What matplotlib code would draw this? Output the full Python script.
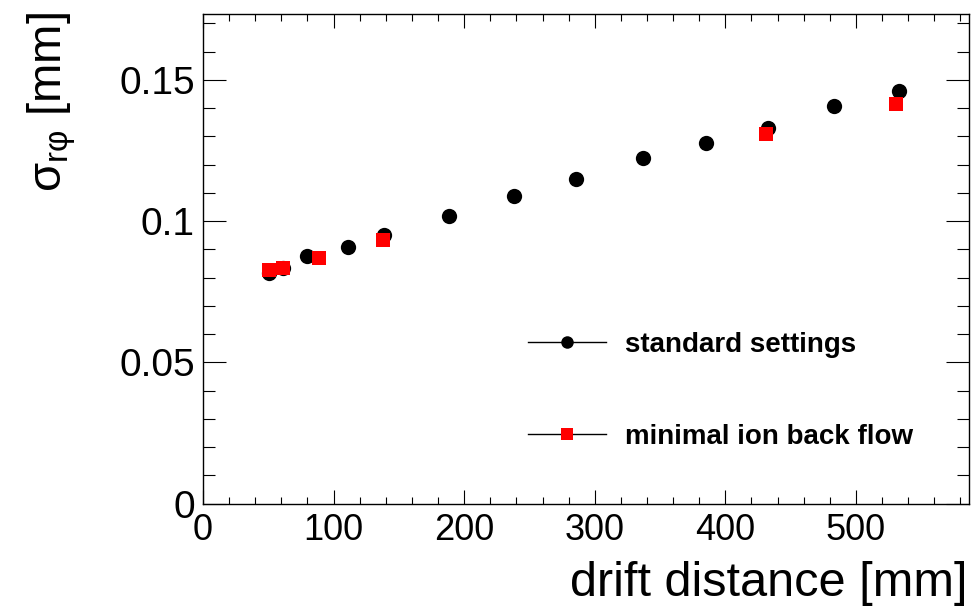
import matplotlib
matplotlib.use("Agg")
import matplotlib.pyplot as plt
from matplotlib.lines import Line2D
from matplotlib.ticker import MultipleLocator, FuncFormatter

# ---- data ----
std_x = [50.8, 61.0, 79.4, 110.8, 138.9, 188.7, 238.2, 286.0, 336.8, 385.2, 433.0, 483.6, 533.2]
std_y = [0.0816, 0.0834, 0.0878, 0.0907, 0.0951, 0.1017, 0.1087, 0.1148, 0.1222, 0.1275, 0.1331, 0.1406, 0.1459]
ibf_x = [50.6, 61.1, 88.9, 137.7, 431.3, 530.9]
ibf_y = [0.0825, 0.0834, 0.0869, 0.0934, 0.1308, 0.1414]
labels = ["standard settings", "minimal ion back flow"]
x_title = "drift distance [mm]"
y_title = r"$\mathrm{\sigma_{r\varphi}}$ [mm]"

plt.rcParams['font.family'] = ['Liberation Sans', 'DejaVu Sans']
plt.rcParams['mathtext.fontset'] = 'custom'
plt.rcParams['mathtext.rm'] = 'Liberation Sans'
plt.rcParams['mathtext.it'] = 'Liberation Sans'

W, H = 978, 609
fig = plt.figure(figsize=(W / 100, H / 100), dpi=100)
L, R, T, B = 203, 969.5, 14, 503.5
ax = fig.add_axes([L / W, 1 - B / H, (R - L) / W, (B - T) / H])

ax.plot(std_x, std_y, linestyle='none', marker='o', ms=11, mfc='black', mec='black', mew=0, zorder=3)
ax.plot(ibf_x, ibf_y, linestyle='none', marker='s', ms=9.6, mfc='#ff0000', mec='#ff0000', mew=0, zorder=4)

ax.set_xlim(0, 587)
ax.set_ylim(0, 0.1733)

ax.xaxis.set_major_locator(MultipleLocator(100))
ax.xaxis.set_minor_locator(MultipleLocator(20))
ax.yaxis.set_major_locator(MultipleLocator(0.05))
ax.yaxis.set_minor_locator(MultipleLocator(0.01))
ax.yaxis.set_major_formatter(FuncFormatter(lambda v, p: "%g" % round(v, 4)))
ax.xaxis.set_major_formatter(FuncFormatter(lambda v, p: "%g" % round(v, 4)))

for s in ax.spines.values():
    s.set_linewidth(1.0)

ax.tick_params(axis='both', which='both', direction='in', top=True, right=True, width=0.8)
ax.tick_params(axis='x', which='major', length=10, pad=7, labelsize=26)
ax.tick_params(axis='x', which='minor', length=5)
ax.tick_params(axis='y', which='major', length=16.5, pad=6, labelsize=28)
ax.tick_params(axis='y', which='minor', length=8.3)

fig.text(968 / W, 1 - 606 / H, x_title, ha='right', va='bottom', fontsize=35)
fig.text(52 / W, 1 - 12 / H, y_title, ha='center', va='top', rotation=90, fontsize=34)

handles = [
    Line2D([], [], color='black', lw=1, marker='o', ms=9, mfc='black', mec='black', mew=0),
    Line2D([], [], color='black', lw=1, marker='s', ms=9, mfc='#ff0000', mec='#ff0000', mew=0),
]
leg = ax.legend(handles, labels, loc='upper left',
                bbox_to_anchor=(528 / W, 1 - 332 / H), bbox_transform=fig.transFigure,
                frameon=False, borderpad=0, borderaxespad=0,
                handlelength=2.8, handletextpad=0.68, labelspacing=2.38,
                prop={'weight': 'bold', 'size': 20})

fig.savefig("out.png", dpi=100)
